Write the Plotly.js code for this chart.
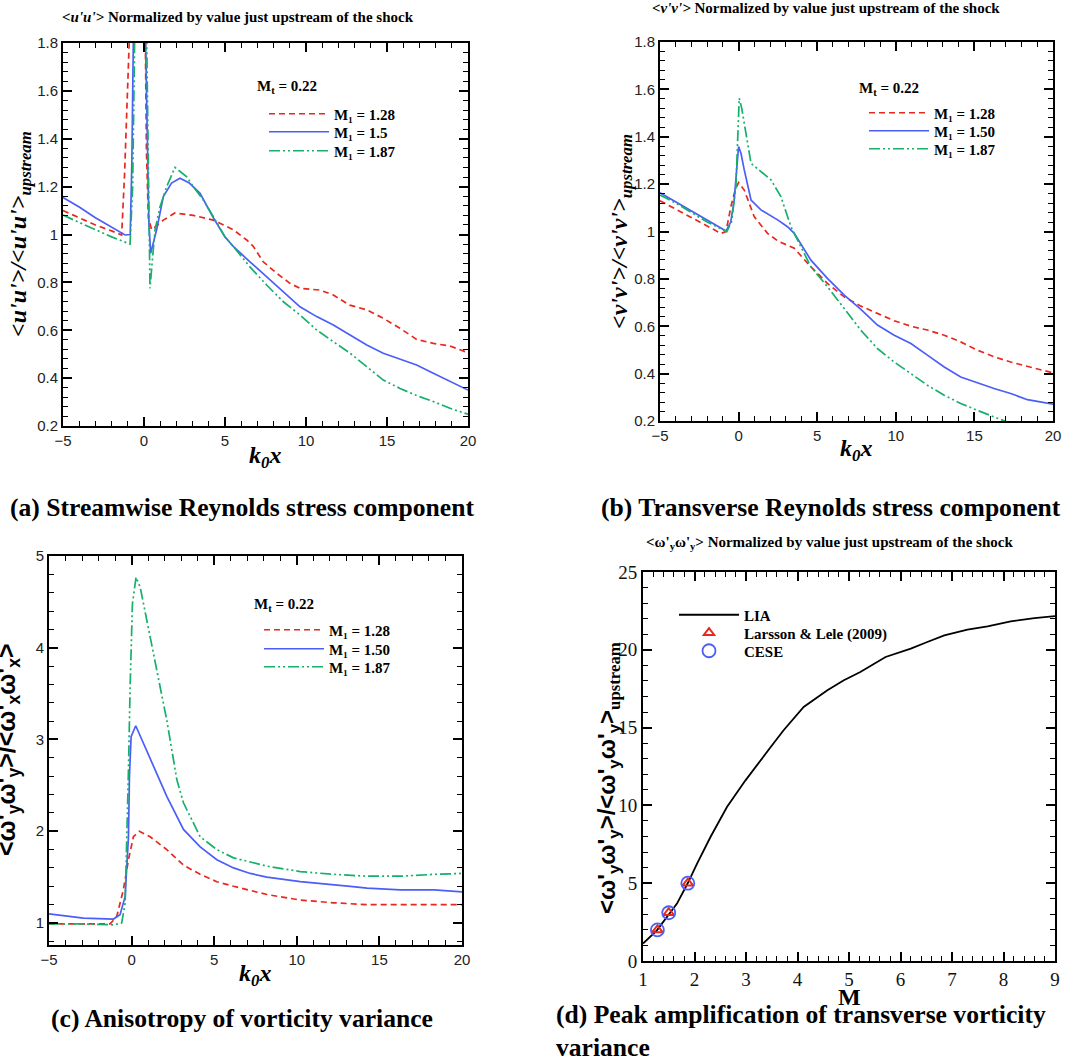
<!DOCTYPE html>
<html>
<head>
<meta charset="utf-8">
<script src="https://cdn.plot.ly/plotly-3.0.1.min.js"></script>
<style>html,body{margin:0;padding:0;background:#fff;}#chart{width:1088px;height:1061px;}</style>
</head>
<body>
<div id="chart"></div>
<script>
// ---------- Data ----------
// (a) <u'u'> normalized by upstream value
const aX128 = [-5,-4,-3,-2,-1.38,-1.2,-1.0,-0.8,-0.5,0.0,0.06,0.15,0.27,0.47,1.19,1.91,3.04,4.28,5.51,6.34,6.75,7.36,8.19,9.01,9.63,10.86,11.69,12.7,13.75,14.77,15.8,16.83,17.86,18.89,20];
const aY128 = [1.10,1.07,1.04,1.015,0.998,1.25,1.6,1.9,2.6,2.4,1.8,1.35,1.07,1.02,1.06,1.09,1.08,1.06,1.02,0.977,0.95,0.886,0.838,0.796,0.775,0.768,0.747,0.705,0.685,0.65,0.608,0.562,0.545,0.534,0.506];
const aX150 = [-5,-4,-3,-2,-1.17,-0.85,-0.75,-0.66,-0.4,0.1,0.2,0.3,0.41,0.55,0.78,1.2,1.7,2.22,2.8,3.46,4.28,5.0,5.51,6.54,7.57,8.6,9.63,10.66,11.69,12.72,13.75,14.77,15.8,16.83,17.86,18.89,20];
const aY150 = [1.155,1.115,1.07,1.03,0.998,1.0,1.3,1.8,2.6,1.8,1.4,1.05,0.921,0.96,1.02,1.16,1.215,1.235,1.215,1.172,1.07,0.99,0.95,0.886,0.824,0.761,0.698,0.657,0.622,0.58,0.538,0.504,0.479,0.455,0.42,0.385,0.35];
const aX187 = [-5,-4,-3,-2,-0.86,-0.7,-0.6,-0.45,0.17,0.25,0.37,0.5,0.68,0.99,1.4,1.91,2.64,3.04,3.66,4.28,5.0,5.51,6.54,7.57,8.6,9.63,10.66,11.69,12.72,13.75,14.77,15.8,16.83,17.86,18.89,20];
const aY187 = [1.081,1.05,1.02,0.99,0.96,1.2,1.7,2.5,1.8,1.3,0.775,0.88,1.02,1.116,1.2,1.28,1.241,1.2,1.144,1.074,0.99,0.95,0.865,0.789,0.719,0.664,0.601,0.552,0.504,0.448,0.392,0.357,0.327,0.302,0.274,0.249];

// (b) <v'v'> normalized by upstream value
const bX128 = [-5,-4,-3,-2,-1.12,-0.8,-0.49,-0.2,0,0.36,0.99,1.84,2.5,3.54,4.6,5.65,6.72,7.78,8.83,9.9,10.96,12.01,13.08,14.13,15.19,16.25,17.31,18.37,20];
const bY128 = [1.13,1.095,1.06,1.025,0.992,1.0,1.105,1.18,1.206,1.175,1.063,0.992,0.96,0.929,0.851,0.781,0.724,0.685,0.654,0.623,0.6,0.584,0.562,0.534,0.499,0.471,0.449,0.431,0.403];
const bX150 = [-5,-4,-3,-2,-0.8,-0.5,-0.28,-0.1,0,0.15,0.36,0.79,1.42,2.48,3.11,3.54,4.17,4.6,5.65,6.72,7.78,8.83,9.9,10.96,12.01,13.08,14.13,15.19,16.25,17.31,18.37,20];
const bY150 = [1.164,1.125,1.087,1.048,1.002,1.04,1.133,1.28,1.359,1.33,1.26,1.133,1.091,1.049,1.02,0.992,0.922,0.879,0.802,0.731,0.671,0.605,0.562,0.527,0.478,0.428,0.386,0.361,0.337,0.316,0.29,0.271];
const bX187 = [-5,-4,-3,-2,-0.75,-0.45,-0.17,-0.05,0.04,0.2,0.36,0.79,1.42,2.06,2.69,3.33,3.96,4.6,5.65,6.72,7.78,8.83,9.9,10.96,12.01,13.08,14.13,15.19,16.25,16.9,20];
const bY187 = [1.154,1.12,1.08,1.04,1.0,1.04,1.19,1.4,1.563,1.52,1.458,1.288,1.253,1.218,1.147,1.02,0.936,0.851,0.767,0.675,0.583,0.506,0.449,0.4,0.351,0.309,0.274,0.245,0.217,0.2,0.12];

// (c) anisotropy of vorticity variance
const cX128 = [-5,-3,-1.3,-0.9,-0.5,-0.19,0.11,0.47,1.12,2.13,3.14,4.15,5.16,6.17,8.2,10.21,12.23,14.25,16.27,18.3,20];
const cY128 = [0.99,0.99,0.99,1.07,1.36,1.69,1.94,2.0,1.94,1.8,1.63,1.53,1.45,1.4,1.31,1.25,1.22,1.2,1.2,1.2,1.2];
const cX150 = [-5,-2.92,-1.1,-0.7,-0.39,-0.19,-0.13,-0.03,0.25,0.72,1.53,2.13,3.14,4.15,5.16,6.17,7.18,8.19,10.21,12.23,13.24,14.25,16.27,18.3,20];
const cY150 = [1.1,1.054,1.043,1.09,1.29,1.94,2.6,3.03,3.15,2.96,2.63,2.38,2.02,1.83,1.69,1.6,1.54,1.5,1.45,1.42,1.4,1.38,1.36,1.36,1.34];
const cX187 = [-5,-3,-1.1,-0.6,-0.39,-0.25,-0.19,-0.09,0.05,0.27,0.52,0.92,1.53,2.13,2.74,3.14,4.15,5.16,6.17,8.19,10.21,12.23,14.25,16.27,18.3,20];
const cY187 = [0.99,0.99,0.98,1.0,1.22,2.12,2.67,3.57,4.48,4.77,4.66,4.3,3.75,3.21,2.56,2.31,1.94,1.8,1.71,1.62,1.56,1.53,1.51,1.51,1.53,1.54];

// (d) peak amplification of transverse vorticity variance
const dLiaM = [1,1.27,1.66,1.87,2.05,2.31,2.63,2.99,3.48,3.73,4.12,4.58,4.9,5.22,5.71,6.2,6.52,6.85,7.3,7.69,8.14,8.6,9];
const dLiaY = [1.12,1.97,3.69,5.01,6.26,7.97,9.9,11.61,13.75,14.83,16.33,17.4,18.04,18.57,19.54,20.08,20.5,20.93,21.3,21.51,21.83,22.04,22.17];
const dLarM = [1.28,1.5,1.87];
const dLarY = [2.0,3.1,5.0];
const dCeseM = [1.28,1.5,1.87];
const dCeseY = [2.0,3.1,5.0];

// tick spacing (major, minor)
const kTicks = {tick0: -5, dtick: 5, minor: 1};
const rsTicks = {tick0: 0.2, dtick: 0.2, minor: 0.04};
const cTicks = {tick0: 1, dtick: 1, minor: 0.2};
const dXTicks = {tick0: 1, dtick: 1, minor: 0.2};
const dYTicks = {tick0: 0, dtick: 5, minor: 1};

// ---------- Layout helpers ----------
const W = 1088, H = 1061;
const fx = p => p / W;
const fy = p => 1 - p / H;
const RED = '#e8281e', BLUE = '#4b5ef8', GREEN = '#16b06b';
const DASH_R = '6px,4px';
const DASH_G = '11px,3px,2px,3px,2px,3px';
const SANS = 'Liberation Sans, Arial, sans-serif';
const SERIF = 'Liberation Serif, Times New Roman, serif';

function ax(domain, range, t, tickFont) {
  return {
    domain: domain, range: range, tickmode: 'linear', tick0: t.tick0, dtick: t.dtick,
    showline: true, mirror: 'allticks', linecolor: 'black', linewidth: 2,
    ticks: 'inside', ticklen: 9, tickwidth: 2, tickcolor: 'black',
    showgrid: false, zeroline: false, tickfont: Object.assign({}, tickFont),
    minor: {ticks: 'inside', ticklen: 5, tickwidth: 1, tickcolor: 'black', dtick: t.minor}
  };
}
const sansTick = {family: SANS, size: 15, color: '#222'};
const serifTick = {family: SERIF, size: 19, color: '#111'};

function line(x, y, xa, ya, color, dash, name, leg) {
  return {x: x, y: y, xaxis: xa, yaxis: ya, type: 'scatter', mode: 'lines', name: name,
    line: {color: color, width: 1.7, dash: dash}, legend: leg};
}

const traces = [
  line(aX128, aY128, 'x', 'y', RED, DASH_R, 'M₁ = 1.28', 'legend'),
  line(aX150, aY150, 'x', 'y', BLUE, 'solid', 'M₁ = 1.5', 'legend2'),
  line(aX187, aY187, 'x', 'y', GREEN, DASH_G, 'M₁ = 1.87', 'legend3'),
  line(bX128, bY128, 'x2', 'y2', RED, DASH_R, 'M₁ = 1.28', 'legend4'),
  line(bX150, bY150, 'x2', 'y2', BLUE, 'solid', 'M₁ = 1.50', 'legend5'),
  line(bX187, bY187, 'x2', 'y2', GREEN, DASH_G, 'M₁ = 1.87', 'legend6'),
  line(cX128, cY128, 'x3', 'y3', RED, DASH_R, 'M₁ = 1.28', 'legend7'),
  line(cX150, cY150, 'x3', 'y3', BLUE, 'solid', 'M₁ = 1.50', 'legend8'),
  line(cX187, cY187, 'x3', 'y3', GREEN, DASH_G, 'M₁ = 1.87', 'legend9'),
  {x: dLiaM, y: dLiaY, xaxis: 'x4', yaxis: 'y4', type: 'scatter', mode: 'lines', name: 'LIA',
    line: {color: 'black', width: 1.8}, legend: 'legend10'},
  {x: dLarM, y: dLarY, xaxis: 'x4', yaxis: 'y4', type: 'scatter', mode: 'markers', name: 'Larsson &amp; Lele (2009)',
    marker: {symbol: 'triangle-up-open', size: 9, color: RED, line: {width: 2, color: RED}}, legend: 'legend11'},
  {x: dCeseM, y: dCeseY, xaxis: 'x4', yaxis: 'y4', type: 'scatter', mode: 'markers', name: 'CESE',
    marker: {symbol: 'circle-open', size: 13, color: BLUE, line: {width: 1.8, color: BLUE}}, legend: 'legend12'}
];

function legendCfg(textLeft, rowY) {
  return {x: fx(textLeft - 70), y: fy(rowY), xanchor: 'left', yanchor: 'middle',
    bgcolor: 'rgba(0,0,0,0)', borderwidth: 0, itemwidth: 60, tracegroupgap: 0,
    font: {family: SERIF, size: 15, color: 'black', weight: 'bold'}, itemclick: false};
}

function ann(text, x, y, size, opts) {
  return Object.assign({text: text, x: fx(x), y: fy(y), xref: 'paper', yref: 'paper', showarrow: false,
    xanchor: 'center', yanchor: 'middle', font: {family: SERIF, size: size, color: 'black', weight: 'bold'}}, opts || {});
}

const annotations = [
  ann('<i>&lt;u\'u\'&gt;</i> Normalized by value just upstream of the shock', 238, 17, 15),
  ann('<i>&lt;v\'v\'&gt;</i> Normalized by value just upstream of the shock', 826, 8, 15),
  ann('&lt;ω\'<sub>y</sub>ω\'<sub>y</sub>&gt; Normalized by value just upstream of the shock', 829, 543, 15),
  ann('(a) Streamwise Reynolds stress component', 242, 507, 25.6),
  ann('(b) Transverse Reynolds stress component', 831, 507, 25.6),
  ann('(c) Anisotropy of vorticity variance', 242, 1018, 25.6),
  ann('(d) Peak amplification of transverse vorticity<br>variance', 554, 998, 25.6, {xanchor: 'left', yanchor: 'top', align: 'left'}),
  ann('<i>k<sub>0</sub>x</i>', 265, 457, 24),
  ann('<i>k<sub>0</sub>x</i>', 856, 450, 24),
  ann('<i>k<sub>0</sub>x</i>', 255, 975, 24),
  ann('M', 849, 997, 24),
  ann('<i>&lt;u\'u\'&gt;/&lt;u\'u\'&gt;<sub>upstream</sub></i>', 20, 234, 24, {textangle: -90}),
  ann('<i>&lt;v\'v\'&gt;/&lt;v\'v\'&gt;<sub>upstream</sub></i>', 621, 232, 24, {textangle: -90}),
  ann('&lt;ω\'<sub>y</sub>ω\'<sub>y</sub>&gt;/&lt;ω\'<sub>x</sub>ω\'<sub>x</sub>&gt;', 8, 750, 25, {textangle: -90, font: {family: SANS, size: 25, color: 'black', weight: 'bold'}}),
  ann('&lt;ω\'<sub>y</sub>ω\'<sub>y</sub>&gt;/&lt;ω\'<sub>y</sub>ω\'<sub>y</sub>&gt;<sub><span style="font-family:Liberation Serif">upstream</span></sub>', 608, 778, 24, {textangle: -90, font: {family: SANS, size: 24, color: 'black', weight: 'bold'}}),
  ann('M<sub>t</sub> = 0.22', 255, 87, 15, {xanchor: 'left'}),
  ann('M<sub>t</sub> = 0.22', 857, 89, 15, {xanchor: 'left'}),
  ann('M<sub>t</sub> = 0.22', 252, 605, 15, {xanchor: 'left'})
];

const layout = {
  width: W, height: H, margin: {l: 0, r: 0, t: 0, b: 0},
  paper_bgcolor: 'white', plot_bgcolor: 'white', showlegend: true,
  xaxis: Object.assign(ax([fx(63), fx(468)], [-5, 20], kTicks, sansTick), {anchor: 'y'}),
  yaxis: Object.assign(ax([fy(426), fy(43)], [0.2, 1.8], rsTicks, sansTick), {anchor: 'x'}),
  xaxis2: Object.assign(ax([fx(660), fx(1053)], [-5, 20], kTicks, sansTick), {anchor: 'y2'}),
  yaxis2: Object.assign(ax([fy(421), fy(42)], [0.2, 1.8], rsTicks, sansTick), {anchor: 'x2'}),
  xaxis3: Object.assign(ax([fx(49), fx(462)], [-5, 20], kTicks, sansTick), {anchor: 'y3'}),
  yaxis3: Object.assign(ax([fy(945), fy(556)], [0.76, 5], cTicks, sansTick), {anchor: 'x3'}),
  xaxis4: Object.assign(ax([fx(643), fx(1055)], [1, 9], dXTicks, serifTick), {anchor: 'y4'}),
  yaxis4: Object.assign(ax([fy(961), fy(572)], [0, 25], dYTicks, serifTick), {anchor: 'x4'}),
  legend: legendCfg(334, 114),
  legend2: legendCfg(334, 132),
  legend3: legendCfg(334, 151),
  legend4: legendCfg(934, 113),
  legend5: legendCfg(934, 131),
  legend6: legendCfg(934, 149),
  legend7: legendCfg(329, 630),
  legend8: legendCfg(329, 649),
  legend9: legendCfg(329, 667),
  legend10: legendCfg(744, 615),
  legend11: legendCfg(744, 633),
  legend12: legendCfg(744, 651),
  annotations: annotations
};

Plotly.newPlot('chart', traces, layout, {staticPlot: true, displayModeBar: false}).then(function (gd) {
  // safety: if tick marks did not render, redraw without minor ticks
  if (!gd.querySelector('path.xtick')) {
    const upd = {};
    ['xaxis','yaxis','xaxis2','yaxis2','xaxis3','yaxis3','xaxis4','yaxis4'].forEach(function (k) { upd[k + '.minor.ticks'] = ''; });
    Plotly.relayout(gd, upd);
  }
});
</script>
</body>
</html>
